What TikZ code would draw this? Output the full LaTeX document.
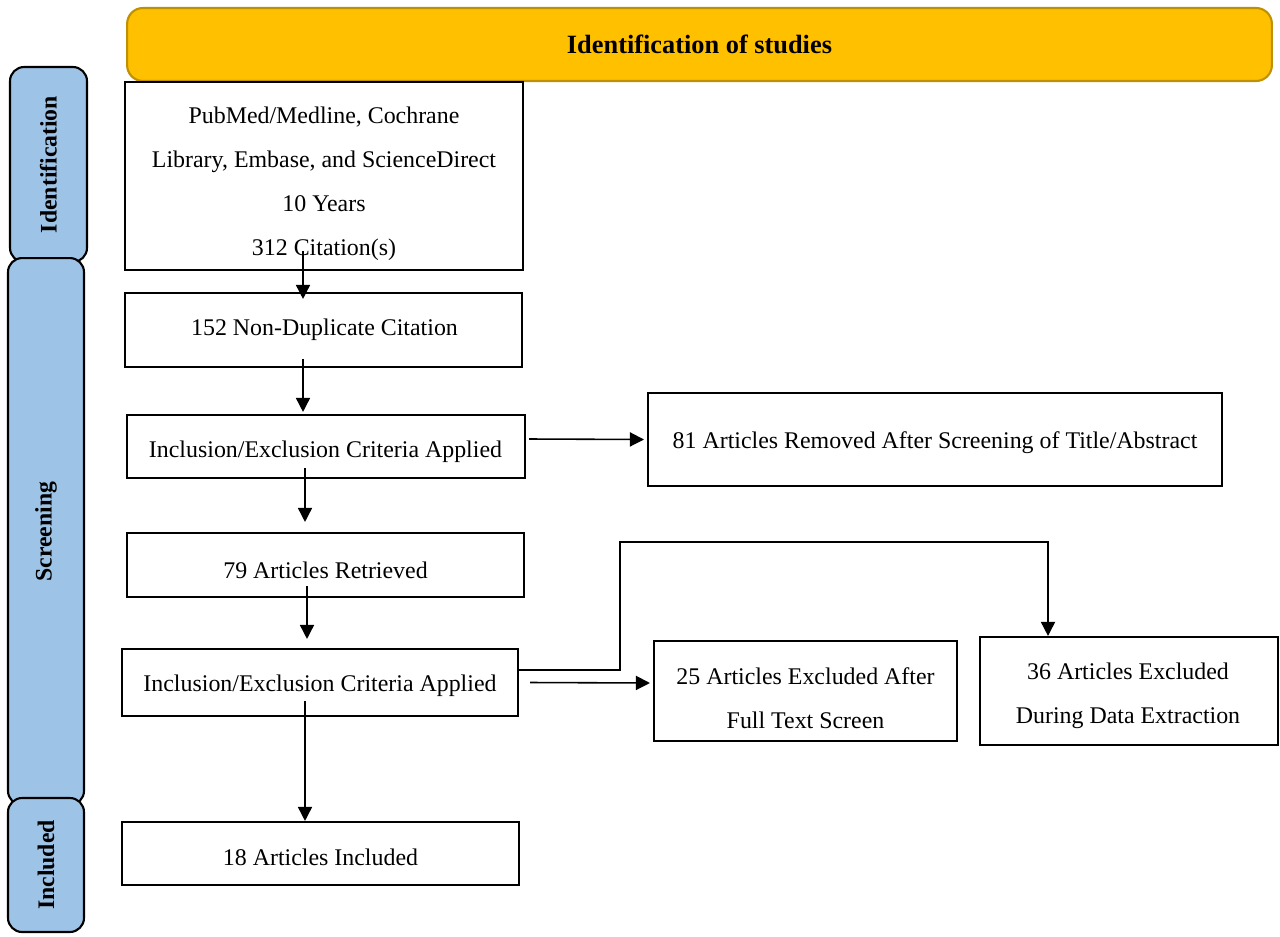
\documentclass[tikz,border=0pt]{standalone}
\usepackage{fontspec}
\setmainfont{Liberation Serif}
\usetikzlibrary{arrows.meta,calc}
\definecolor{bannerfill}{HTML}{FFC000}
\definecolor{bannerline}{HTML}{BF9000}
\definecolor{sidefill}{HTML}{9DC3E6}
\tikzset{
  boxnode/.style={draw=black,line width=1.2pt,fill=white,inner sep=0pt},
  boxtext/.style={align=center,inner sep=0pt,font=\fontsize{13.6}{25}\selectfont},
  sidenode/.style={draw=black,line width=1.2pt,fill=sidefill,rounded corners=8pt,inner sep=0pt},
  sidetext/.style={rotate=90,font=\fontsize{13.5}{16}\selectfont\bfseries},
  arr/.style={line width=0.9pt,-{Triangle[length=8pt,width=8pt]}},
}
\begin{document}
\begin{tikzpicture}[x=0.02cm,y=-0.02cm]
\useasboundingbox (0,0) rectangle (1280,936);
% banner
\node[draw=bannerline,line width=1.2pt,fill=bannerfill,rounded corners=9pt,
  minimum width=22.9cm,minimum height=1.46cm,inner sep=0pt,
  font=\fontsize{15}{18}\selectfont\bfseries] (banner) at (699.5,44.5) {Identification of studies};
% side labels
\node[sidenode,minimum width=1.54cm,minimum height=3.9cm] (sid) at (48.5,164.5) {};
\node[sidetext] (tid) at (sid.center) {Identification};
\node[sidenode,minimum width=1.52cm,minimum height=10.94cm] (sscr) at (46,531.5) {};
\node[sidetext] (tscr) at (sscr.center) {Screening};
\node[sidenode,minimum width=1.52cm,minimum height=2.68cm] (sinc) at (46,865) {};
\node[sidetext] (tinc) at (sinc.center) {Included};
% boxes
\node[boxnode,minimum width=7.96cm,minimum height=3.76cm] (b1) at (324,176) {};
\node[boxtext] (t1) at (324,183.5)
  {PubMed/Medline, Cochrane\\Library, Embase, and ScienceDirect\\10 Years\\312 Citation(s)};
\node[boxnode,minimum width=7.94cm,minimum height=1.48cm] (b2) at (323.5,330) {};
\node[boxtext] (t2) at (324.5,330) {152 Non-Duplicate Citation};
\node[boxnode,minimum width=7.96cm,minimum height=1.26cm] (b3) at (326,446.5) {};
\node[boxtext] (t3) at (325.5,452) {Inclusion/Exclusion Criteria Applied};
\node[boxnode,minimum width=11.48cm,minimum height=1.86cm] (b4) at (935,439.5) {};
\node[boxtext] (t4) at (935,443) {81 Articles Removed After Screening of Title/Abstract};
\node[boxnode,minimum width=7.94cm,minimum height=1.28cm] (b5) at (325.5,565) {};
\node[boxtext] (t5) at (325.5,570) {79 Articles Retrieved};
\node[boxnode,minimum width=7.92cm,minimum height=1.34cm] (b6) at (320,682.5) {};
\node[boxtext] (t6) at (320,686) {Inclusion/Exclusion Criteria Applied};
\node[boxnode,minimum width=6.06cm,minimum height=2.0cm] (b7) at (805.5,691) {};
\node[boxtext] (t7) at (805.5,698.5) {25 Articles Excluded After\\Full Text Screen};
\node[boxnode,minimum width=5.96cm,minimum height=2.16cm] (b8) at (1129,691) {};
\node[boxtext] (t8) at (1128,696) {36 Articles Excluded\\During Data Extraction};
\node[boxnode,minimum width=7.94cm,minimum height=1.26cm] (b9) at (320.5,853.5) {};
\node[boxtext] (t9) at (320.5,857) {18 Articles Included};
% connectors
\draw[arr] ($(b1.south)+(-21,-20)$) -- ($(b2.north)+(-20.5,7)$);
\draw[arr] ($(b2.south)+(-20.5,-9)$) -- ($(b3.north)+(-23,-2)$);
\draw[arr] ($(b3.south)+(-21,-11)$) -- ($(b5.north)+(-20.5,-10)$);
\draw[arr] ($(b3.east)+(3,-7.5)$) -- ($(b4.west)+(-3,0)$);
\draw[arr] ($(b5.south)+(-18.5,-12)$) -- ($(b6.north)+(-13,-9)$);
\draw[arr] ($(b6.south)+(-15,-16)$) -- ($(b9.north)+(-15.5,0)$);
\coordinate (k) at (620,542);
\draw[arr] ($(b6.east)+(0,-12.5)$) -| (k) -| ($(b8.north)+(-81,0)$);
\draw[arr] ($(b6.east)+(11,0)$) -- ($(b7.west)+(-3,-8)$);
\end{tikzpicture}
\end{document}
